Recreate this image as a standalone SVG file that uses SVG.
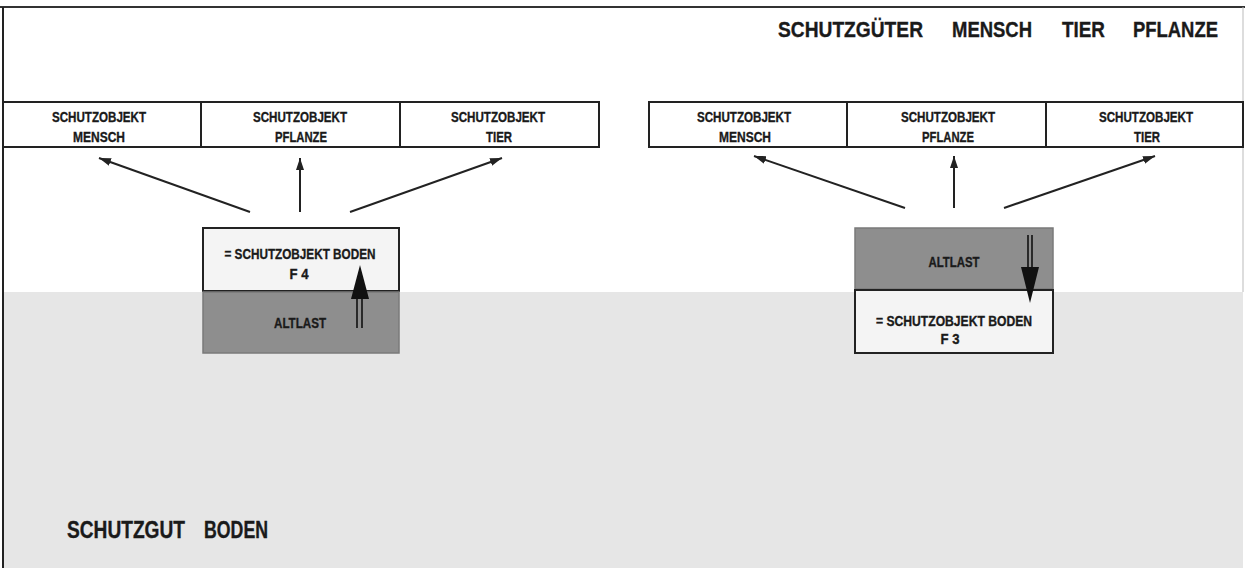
<svg xmlns="http://www.w3.org/2000/svg" width="1245" height="568" viewBox="0 0 1245 568">
<defs>
<style>
.t{font-family:"Liberation Sans",Arial,sans-serif;font-weight:bold;fill:#1a1a1a;stroke:#1a1a1a;stroke-width:0.35}
.cell{fill:#ffffff;stroke:#222;stroke-width:2}
.small{font-size:15px;text-anchor:middle}
.box{font-size:15px;text-anchor:middle}
.alt{fill:#8e8e8e;stroke:#7a7a7a;stroke-width:1.5}
.soil{fill:#f4f4f4;stroke:#222;stroke-width:2}
.con{stroke:#222;stroke-width:2;fill:none}
.big{stroke:#111;stroke-width:1.6;fill:none}
</style>
<marker id="ah" markerUnits="userSpaceOnUse" markerWidth="14" markerHeight="10" refX="12" refY="4" orient="auto">
<path d="M0,0 L12,4 L0,8 z" fill="#222"/>
</marker>
</defs>
<rect x="0" y="0" width="1245" height="568" fill="#ffffff"/>
<rect id="ground" x="3" y="292" width="1240" height="276" fill="#e6e6e6"/>
<g id="frame">
<line x1="0" y1="7" x2="1245" y2="7" stroke="#333" stroke-width="2"/>
<line x1="3" y1="7" x2="3" y2="568" stroke="#222" stroke-width="2"/>
<line x1="1243" y1="7" x2="1243" y2="292" stroke="#bbb" stroke-width="1"/>
</g>
<g id="title">
<text class="t" x="778" y="37" font-size="22" textLength="145" lengthAdjust="spacingAndGlyphs">SCHUTZGÜTER</text>
<text class="t" x="952" y="37" font-size="22" textLength="80" lengthAdjust="spacingAndGlyphs">MENSCH</text>
<text class="t" x="1062" y="37" font-size="22" textLength="43" lengthAdjust="spacingAndGlyphs">TIER</text>
<text class="t" x="1133" y="37" font-size="22" textLength="85" lengthAdjust="spacingAndGlyphs">PFLANZE</text>
</g>
<g id="bottom-title">
<text class="t" x="67" y="538" font-size="23" textLength="118" lengthAdjust="spacingAndGlyphs">SCHUTZGUT</text>
<text class="t" x="204" y="538" font-size="23" textLength="64" lengthAdjust="spacingAndGlyphs">BODEN</text>
</g>
<g id="left-mensch">
<rect class="cell" x="3" y="102" width="198" height="45"/>
<text class="t small" x="99" y="122" textLength="94" lengthAdjust="spacingAndGlyphs">SCHUTZOBJEKT</text>
<text class="t small" x="99" y="142" textLength="52" lengthAdjust="spacingAndGlyphs">MENSCH</text>
</g>
<g id="left-pflanze">
<rect class="cell" x="201" y="102" width="199" height="45"/>
<text class="t small" x="300" y="122" textLength="94" lengthAdjust="spacingAndGlyphs">SCHUTZOBJEKT</text>
<text class="t small" x="301" y="142" textLength="52" lengthAdjust="spacingAndGlyphs">PFLANZE</text>
</g>
<g id="left-tier">
<rect class="cell" x="400" y="102" width="199" height="45"/>
<text class="t small" x="498" y="122" textLength="94" lengthAdjust="spacingAndGlyphs">SCHUTZOBJEKT</text>
<text class="t small" x="499" y="142" textLength="26" lengthAdjust="spacingAndGlyphs">TIER</text>
</g>
<g id="right-mensch">
<rect class="cell" x="649" y="102" width="198" height="45"/>
<text class="t small" x="744" y="122" textLength="94" lengthAdjust="spacingAndGlyphs">SCHUTZOBJEKT</text>
<text class="t small" x="745" y="142" textLength="52" lengthAdjust="spacingAndGlyphs">MENSCH</text>
</g>
<g id="right-pflanze">
<rect class="cell" x="847" y="102" width="199" height="45"/>
<text class="t small" x="948" y="122" textLength="94" lengthAdjust="spacingAndGlyphs">SCHUTZOBJEKT</text>
<text class="t small" x="948" y="142" textLength="52" lengthAdjust="spacingAndGlyphs">PFLANZE</text>
</g>
<g id="right-tier">
<rect class="cell" x="1046" y="102" width="197" height="45"/>
<text class="t small" x="1146" y="122" textLength="94" lengthAdjust="spacingAndGlyphs">SCHUTZOBJEKT</text>
<text class="t small" x="1147" y="142" textLength="26" lengthAdjust="spacingAndGlyphs">TIER</text>
</g>
<g id="left-boden">
<rect class="soil" x="203" y="228" width="196" height="63"/>
<text class="t box" x="300" y="259" textLength="151" lengthAdjust="spacingAndGlyphs">= SCHUTZOBJEKT BODEN</text>
<text class="t box" x="299" y="279" textLength="19" lengthAdjust="spacingAndGlyphs">F 4</text>
</g>
<g id="left-altlast">
<rect class="alt" x="203" y="292" width="196" height="61"/>
<text class="t box" x="300" y="328" textLength="52" lengthAdjust="spacingAndGlyphs">ALTLAST</text>
</g>
<g id="right-altlast">
<rect class="alt" x="855" y="228" width="198" height="61"/>
<text class="t box" x="954" y="267" textLength="51" lengthAdjust="spacingAndGlyphs">ALTLAST</text>
</g>
<g id="right-boden">
<rect class="soil" x="855" y="290" width="198" height="63"/>
<text class="t box" x="954" y="326" textLength="156" lengthAdjust="spacingAndGlyphs">= SCHUTZOBJEKT BODEN</text>
<text class="t box" x="950" y="344" textLength="19" lengthAdjust="spacingAndGlyphs">F 3</text>
</g>
<g id="connectors">
<line class="con" x1="250" y1="212" x2="99" y2="158" marker-end="url(#ah)"/>
<line class="con" x1="300" y1="212" x2="300" y2="158" marker-end="url(#ah)"/>
<line class="con" x1="350" y1="212" x2="502" y2="158" marker-end="url(#ah)"/>
<line class="con" x1="905" y1="208" x2="754" y2="156" marker-end="url(#ah)"/>
<line class="con" x1="954" y1="208" x2="954" y2="156" marker-end="url(#ah)"/>
<line class="con" x1="1004" y1="208" x2="1155" y2="156" marker-end="url(#ah)"/>
<line class="big" x1="357" y1="298" x2="357" y2="328"/>
<line class="big" x1="362" y1="298" x2="362" y2="328"/>
<path d="M351,299 L369,299 L360,265 z" fill="#111"/>
<line class="big" x1="1028" y1="235" x2="1028" y2="268"/>
<line class="big" x1="1032" y1="235" x2="1032" y2="268"/>
<path d="M1021,267 L1039,267 L1030,303 z" fill="#111"/>
</g>
</svg>
